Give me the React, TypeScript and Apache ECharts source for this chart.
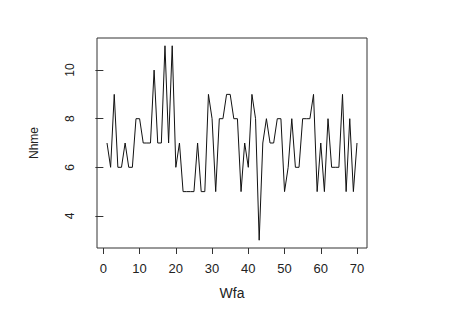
import React, { useEffect, useRef } from "react";
import * as echarts from "echarts";

const nhme = [
  7, 6, 9, 6, 6, 7, 6, 6, 8, 8,
  7, 7, 7, 10, 7, 7, 11, 7, 11, 6,
  7, 5, 5, 5, 5, 7, 5, 5, 9, 8,
  5, 8, 8, 9, 9, 8, 8, 5, 7, 6,
  9, 8, 3, 7, 8, 7, 7, 8, 8, 5,
  6, 8, 6, 6, 8, 8, 8, 9, 5, 7,
  5, 8, 6, 6, 6, 9, 5, 8, 5, 7,
];
const xTicks = [0, 10, 20, 30, 40, 50, 60, 70];
const yTicks = [4, 6, 8, 10];
const xTitle = "Wfa";
const yTitle = "Nhme";

export default function App() {
  const ref = useRef<HTMLDivElement>(null);
  useEffect(() => {
    if (!ref.current) return;
    const chart = echarts.init(ref.current, null, { renderer: "svg" });
    const data = nhme.map((v, i) => [i + 1, v]);
    const font = "'Liberation Sans', Arial, Helvetica, sans-serif";
    const axisColor = "#333";
    chart.setOption({
      animation: false,
      backgroundColor: "#fff",
      grid: {
        left: 97,
        top: 38,
        width: 270,
        height: 210,
        show: true,
        borderColor: axisColor,
        borderWidth: 1,
        backgroundColor: "transparent",
      },
      xAxis: {
        type: "value",
        min: -1.76,
        max: 72.76,
        name: xTitle,
        nameLocation: "middle",
        nameGap: 38,
        nameTextStyle: { fontFamily: font, fontSize: 14, color: "#222" },
        axisLine: { show: false },
        splitLine: { show: false },
        axisTick: {
          show: true,
          customValues: xTicks,
          length: 6,
          lineStyle: { color: axisColor, width: 1 },
        },
        axisLabel: {
          customValues: xTicks,
          margin: 14,
          fontFamily: font,
          fontSize: 13,
          color: "#222",
        },
      },
      yAxis: {
        type: "value",
        min: 2.68,
        max: 11.32,
        name: yTitle,
        nameLocation: "middle",
        nameGap: 57,
        nameRotate: 90,
        nameTextStyle: { fontFamily: font, fontSize: 12, color: "#222" },
        axisLine: { show: false },
        splitLine: { show: false },
        axisTick: {
          show: true,
          customValues: yTicks,
          length: 8,
          lineStyle: { color: axisColor, width: 1 },
        },
        axisLabel: {
          customValues: yTicks,
          rotate: 90,
          margin: 21,
          fontFamily: font,
          fontSize: 12,
          color: "#222",
        },
      },
      series: [
        {
          type: "line",
          data,
          showSymbol: false,
          symbol: "none",
          lineStyle: { color: "#111", width: 1 },
        },
      ],
    });
    return () => chart.dispose();
  }, []);
  return (
    <div
      ref={ref}
      style={{ position: "fixed", left: 0, top: 0, width: 457, height: 326 }}
    />
  );
}
